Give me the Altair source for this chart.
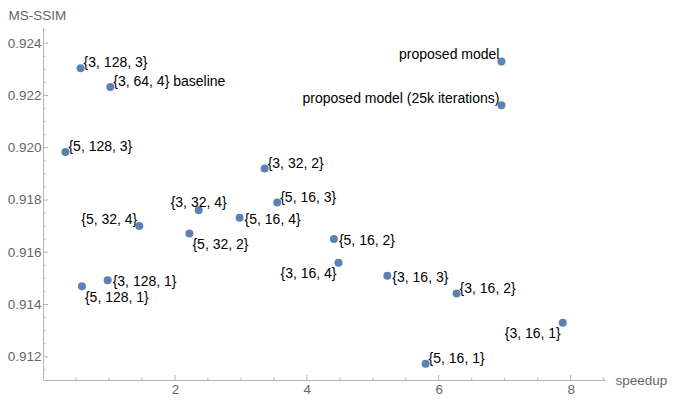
import altair as alt
import pandas as pd

labels = ["{3, 128, 3}", "{3, 64, 4} baseline", "{5, 128, 3}", "{3, 32, 2}",
          "proposed model", "proposed model (25k iterations)", "{5, 16, 3}",
          "{3, 32, 4}", "{5, 32, 4}", "{5, 16, 4}", "{5, 32, 2}", "{5, 16, 2}",
          "{3, 16, 4}", "{3, 128, 1}", "{5, 128, 1}", "{3, 16, 3}", "{3, 16, 2}",
          "{3, 16, 1}", "{5, 16, 1}"]
speedup = [0.57, 1.02, 0.34, 3.36, 6.95, 6.95, 3.55, 2.36, 1.46, 2.98, 2.22,
           4.41, 4.48, 0.98, 0.59, 5.22, 6.27, 7.88, 5.80]
msssim = [0.92304, 0.92232, 0.91984, 0.91920, 0.92330, 0.92163, 0.91790,
          0.91761, 0.91700, 0.91732, 0.91672, 0.91651, 0.91560, 0.91493,
          0.91470, 0.91510, 0.91442, 0.91330, 0.91173]
placement = ["r", "r", "r", "r", "la", "la", "r", "a", "la", "rc", "br", "rc",
             "bl", "rc", "br", "rc", "r", "bl", "r"]

x_major = [2, 4, 6, 8]
x_minor = [0.5, 1, 1.5, 2.5, 3, 3.5, 4.5, 5, 5.5, 6.5, 7, 7.5, 8.5]
y_major = [0.912, 0.914, 0.916, 0.918, 0.920, 0.922, 0.924]
y_minor = [0.9115, 0.9125, 0.913, 0.9135, 0.9145, 0.915, 0.9155, 0.9165,
           0.917, 0.9175, 0.9185, 0.919, 0.9195, 0.9205, 0.921, 0.9215,
           0.9225, 0.923, 0.9235, 0.9245]

df = pd.DataFrame({"speedup": speedup, "msssim": msssim, "label": labels, "pos": placement})

W, H = 562, 353
FONT = "Liberation Sans"
AXIS_COLOR = "#b5b5b5"
LABEL_COLOR = "#666666"

xs = alt.Scale(domain=[0, 8.52], nice=False, zero=False)
ys = alt.Scale(domain=[0.91111, 0.92462], nice=False, zero=False)

xaxis = alt.Axis(values=x_major, format="d", ticks=False, grid=False,
                 domainColor=AXIS_COLOR, labelColor=LABEL_COLOR, labelFont=FONT,
                 labelFontSize=13.5, labelPadding=2,
                 title="speedup", titleFont=FONT, titleFontSize=13.5,
                 titleFontWeight="normal", titleColor=LABEL_COLOR,
                 titleAlign="left", titleBaseline="middle", titleX=W + 10, titleY=0,
                 titleAngle=0)
yaxis = alt.Axis(values=y_major, format=".3f", ticks=False, grid=False,
                 domainColor=AXIS_COLOR, labelColor=LABEL_COLOR, labelFont=FONT,
                 labelFontSize=13.5, labelPadding=2,
                 title="MS-SSIM", titleFont=FONT, titleFontSize=13.5,
                 titleFontWeight="normal", titleColor=LABEL_COLOR,
                 titleAlign="left", titleBaseline="top", titleX=-35, titleY=-19,
                 titleAngle=0)

X = alt.X("speedup:Q", scale=xs, axis=xaxis)
Y = alt.Y("msssim:Q", scale=ys, axis=yaxis)

points = alt.Chart(df).mark_circle(size=64, color="#5E81B5", opacity=1).encode(x=X, y=Y)

def xticks(vals, length):
    return alt.Chart(pd.DataFrame({"speedup": vals})).mark_rule(color=AXIS_COLOR, strokeWidth=1).encode(
        x=X, y=alt.value(H), y2=alt.value(H - length))

def yticks(vals, length):
    return alt.Chart(pd.DataFrame({"msssim": vals})).mark_rule(color=AXIS_COLOR, strokeWidth=1).encode(
        y=Y, x=alt.value(0), x2=alt.value(length))

styles = {
    "r": ("left", 3, -5),
    "rc": ("left", 5, 2),
    "la": ("right", -2, -6),
    "a": ("center", 0, -7),
    "bl": ("right", -2, 11),
    "br": ("left", 3, 12),
}

text_layers = []
for key, (al, dx, dy) in styles.items():
    text_layers.append(
        alt.Chart(df).transform_filter(alt.datum.pos == key).mark_text(
            align=al, baseline="middle", dx=dx, dy=dy, fontSize=14, font=FONT, color="black"
        ).encode(x=X, y=Y, text="label:N")
    )

chart = alt.layer(
    points,
    xticks(x_major, 5), xticks(x_minor, 2.5), yticks(y_major, 5), yticks(y_minor, 2.5),
    *text_layers
).properties(
    width=W, height=H,
    padding={"left": 35, "top": 19, "right": 64, "bottom": 18},
    autosize=alt.AutoSizeParams(type="none"),
).configure_view(stroke=None)

chart.save("out.html", embed_options={"renderer": "svg", "actions": False})
